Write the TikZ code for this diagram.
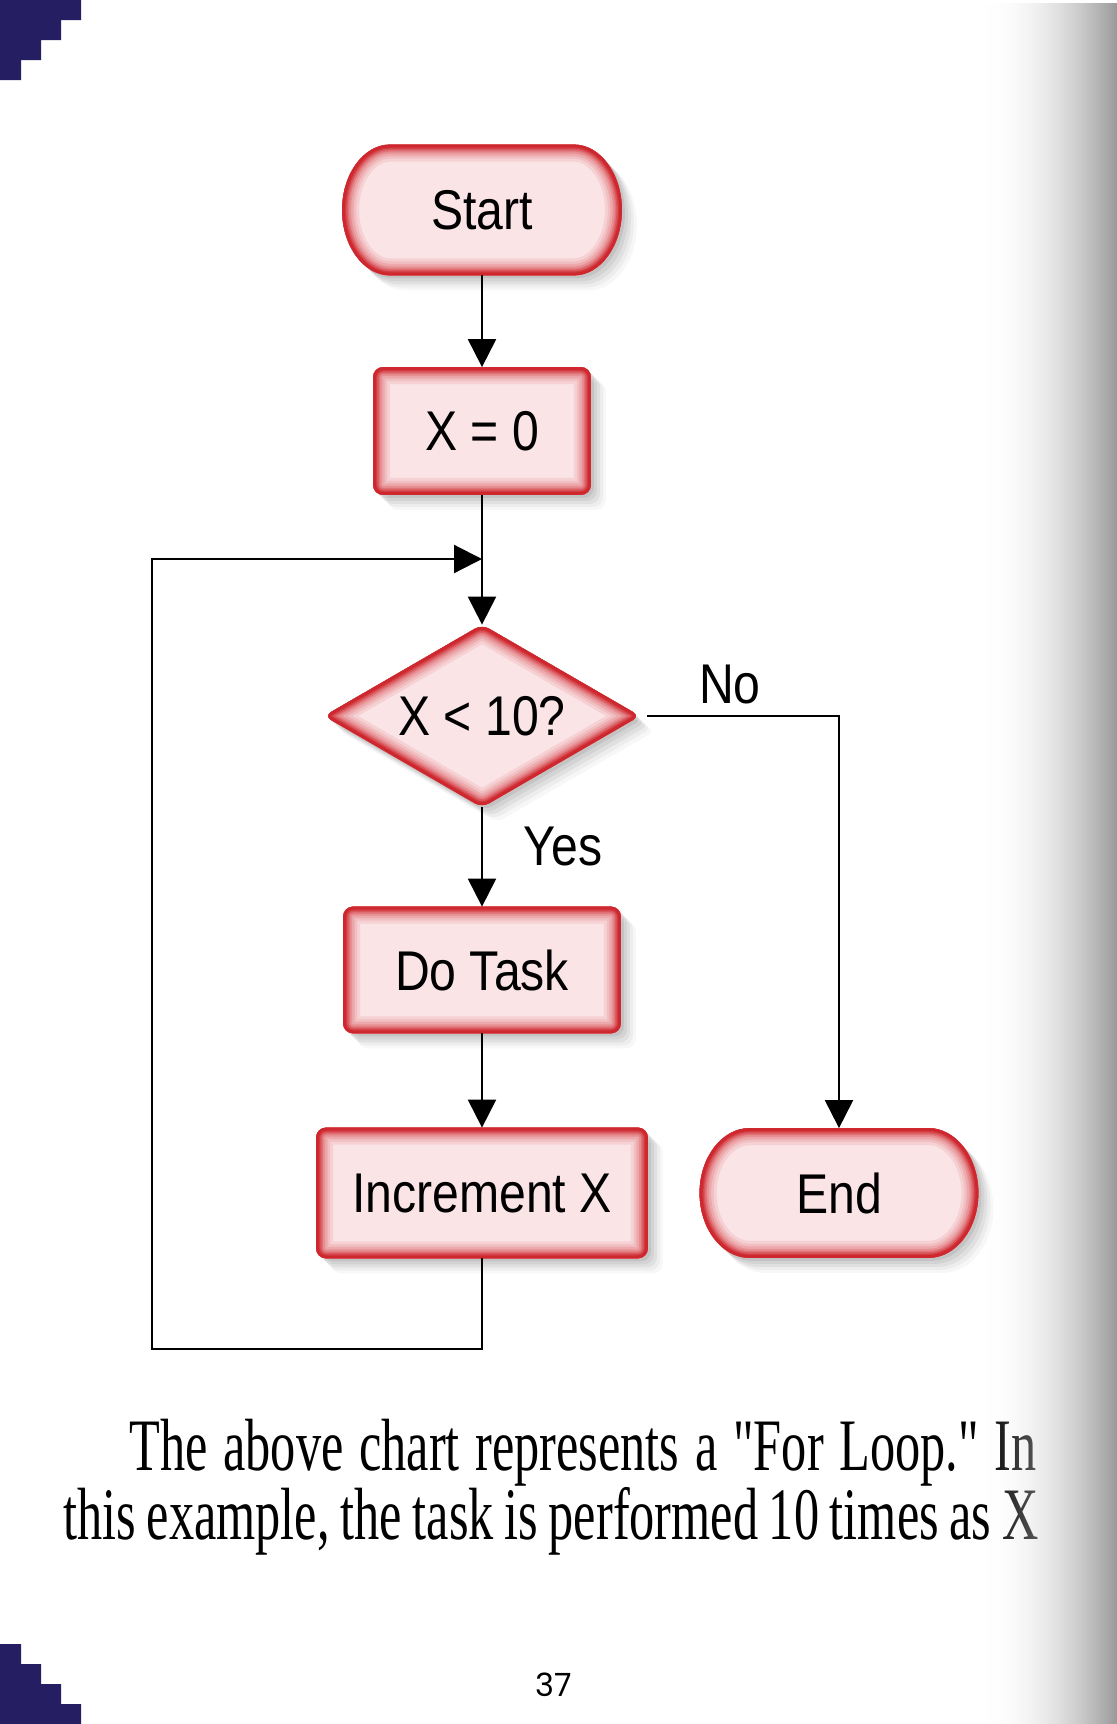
\documentclass[tikz,border=0pt]{standalone}
\usepackage{fontspec}
\usetikzlibrary{arrows.meta,calc,backgrounds,fadings}
\newfontfamily\chartfont[FakeStretch=0.86]{Liberation Sans}
\newfontfamily\capfont[FakeStretch=0.68]{Liberation Serif}
\newfontfamily\numfont{Poppins}
\definecolor{boxred}{RGB}{206,40,46}
\definecolor{boxfill}{RGB}{250,228,230}
\definecolor{navy}{RGB}{38,30,98}
\tikzfading[name=pageedge, left color=transparent!100, right color=transparent!0]
% stadium outline round a node: #1 node, #2 depth of the round ends
\newcommand\stadium[2]{($(#1.north west)+(#2,0)$) -- ($(#1.north east)+(-#2,0)$)
  .. controls ($(#1.north east)+(-0.45*#2,0)$) and ($(#1.east)!0.55!(#1.north east)$) .. (#1.east)
  .. controls ($(#1.east)!0.55!(#1.south east)$) and ($(#1.south east)+(-0.45*#2,0)$) .. ($(#1.south east)+(-#2,0)$)
  -- ($(#1.south west)+(#2,0)$)
  .. controls ($(#1.south west)+(0.45*#2,0)$) and ($(#1.west)!0.55!(#1.south west)$) .. (#1.west)
  .. controls ($(#1.west)!0.55!(#1.north west)$) and ($(#1.north west)+(0.45*#2,0)$) .. ($(#1.north west)+(#2,0)$) -- cycle}
% shadow, fill and red inner glow of one shape
\newcommand\flowshape[1]{%
  \foreach \s/\o in {1.5/0.07,3/0.06,4.5/0.05,6/0.04,7.5/0.03}
    \fill[black, opacity=\o, transform canvas={shift={(\s pt,-\s pt)}}] #1;
  \fill[boxfill] #1;
  \begin{scope}
    \clip #1;
    \foreach \w/\p in {17/10,14/20,11.5/32,9/46,7/60,5.5/75,4/90,2.8/100}
      \draw[boxred!\p!boxfill, line width=\w pt] #1;
  \end{scope}}
\begin{document}
\begin{tikzpicture}[x=0.5pt,y=-0.5pt,
    box/.style={inner sep=0pt, font=\chartfont\fontsize{28}{32}\selectfont},
    flow/.style={line width=1.1pt, -{Triangle[length=14pt,width=14pt]}}]
  \useasboundingbox (0,0) rectangle (1117,1724);
  % chart
  \node[box, minimum width=139.5pt, minimum height=65pt] (start) at (482,210) {Start};
  \node[box, minimum width=108.5pt, minimum height=63.5pt] (init) at (482,431) {X = 0};
  \node[box, minimum width=157.5pt, minimum height=91pt] (dec) at (482,716) {X < 10?};
  \node[box, minimum width=138.5pt, minimum height=63pt] (task) at (482,970) {Do Task};
  \node[box, minimum width=165.5pt, minimum height=65pt] (incx) at (482,1193) {Increment X};
  \node[box, minimum width=139pt, minimum height=64.5pt] (endn) at (839,1193) {End};
  \node[box] (nolbl) at (730,685) {No};
  \node[box] (yeslbl) at (563,846) {Yes};
  \coordinate (loopin) at (482,559);
  \coordinate (loopcorner) at (152,1349);
  \draw[flow] (start.south) -- (init.north);
  \draw[flow] (init.south) -- (dec.north);
  \draw[flow] (dec.south) -- (task.north);
  \draw[flow] (task.south) -- (incx.north);
  \draw[flow] ([xshift=3.5pt]dec.east) -| (endn.north);
  \draw[flow] (incx.south) |- (loopcorner) |- (loopin);
  % text below
  \node[anchor=base west, inner sep=0pt, font=\capfont\fontsize{37}{40}\selectfont] (capone) at (129,1470)
    {\makebox[453.5pt][s]{The above chart represents a "For Loop." In}};
  \node[anchor=base west, inner sep=0pt, font=\capfont\fontsize{37}{40}\selectfont] (captwo) at (63,1539)
    {\makebox[487.5pt][s]{this example, the task is performed 10 times as X}};
  \node[font=\numfont\fontsize{16}{18}\selectfont] (pagenum) at (554,1685) {37};
  \begin{scope}[on background layer]
    \fill[white] (0,0) rectangle (1117,1724);
    \flowshape{\stadium{start}{48}}
    \flowshape{[rounded corners=5pt] (init.south west) rectangle (init.north east)}
    \flowshape{[rounded corners=4pt] (dec.north) -- (dec.east) -- (dec.south) -- (dec.west) -- cycle}
    \flowshape{[rounded corners=5pt] (task.south west) rectangle (task.north east)}
    \flowshape{[rounded corners=5pt] (incx.south west) rectangle (incx.north east)}
    \flowshape{\stadium{endn}{50}}
  \end{scope}
  % page corners and edge
  \fill[navy] (0,0) -- (81,0) -- (81,20) -- (61,20) -- (61,40) -- (41,40) -- (41,60)
    -- (21,60) -- (21,80) -- (0,80) -- cycle;
  \fill[navy] (0,1644) -- (21,1644) -- (21,1664) -- (41,1664) -- (41,1684) -- (61,1684)
    -- (61,1704) -- (81,1704) -- (81,1724) -- (0,1724) -- cycle;
  \shade[left color=white, right color=black!40, path fading=pageedge] (985,0) rectangle (1117,1724);
\end{tikzpicture}
\end{document}
